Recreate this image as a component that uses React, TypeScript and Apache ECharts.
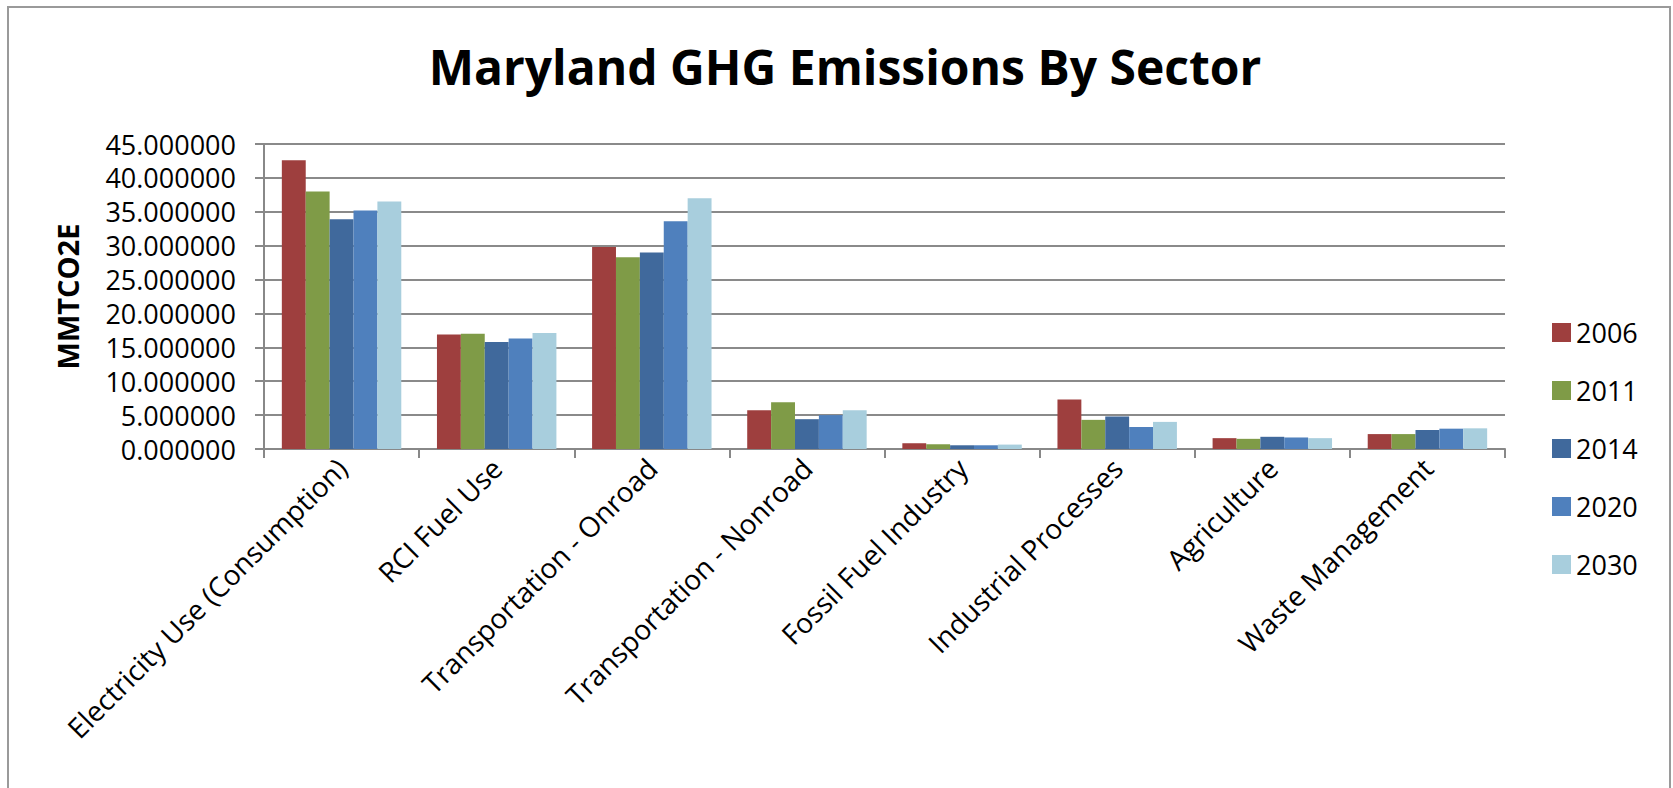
import React, { useEffect, useRef } from "react";
import * as echarts from "echarts";

const categories = [
  "Electricity Use (Consumption)",
  "RCI Fuel Use",
  "Transportation - Onroad",
  "Transportation - Nonroad",
  "Fossil Fuel Industry",
  "Industrial Processes",
  "Agriculture",
  "Waste Management",
];

const seriesNames = ["2006", "2011", "2014", "2020", "2030"];
const v2006 = [42.6, 16.9, 29.8, 5.7, 0.85, 7.3, 1.6, 2.2];
const v2011 = [38.0, 17.0, 28.3, 6.9, 0.7, 4.3, 1.5, 2.2];
const v2014 = [33.9, 15.8, 29.0, 4.4, 0.55, 4.8, 1.8, 2.8];
const v2020 = [35.2, 16.3, 33.6, 5.0, 0.55, 3.25, 1.7, 3.0];
const v2030 = [36.5, 17.1, 37.0, 5.7, 0.65, 4.0, 1.6, 3.05];
const seriesValues = [v2006, v2011, v2014, v2020, v2030];
const colors = ["#9E3F3E", "#7F9B47", "#40699C", "#4F80BD", "#A8CEDD"];

const FONT = "'Open Sans', sans-serif";

export default function App() {
  const ref = useRef<HTMLDivElement>(null);
  useEffect(() => {
    if (!ref.current) return;
    const chart = echarts.init(ref.current, undefined, { renderer: "svg" });
    chart.setOption({
      animation: false,
      backgroundColor: "#ffffff",
      textStyle: { fontFamily: FONT },
      title: {
        text: "Maryland GHG Emissions By Sector",
        left: 840,
        top: 37,
        textAlign: "center",
        textStyle: { fontFamily: FONT, fontSize: 48, fontWeight: "bold", color: "#000" },
      },
      graphic: [
        {
          type: "rect",
          shape: { x: 8, y: 7, width: 1662, height: 800 },
          style: { fill: "none", stroke: "#9a9a9a", lineWidth: 2 },
          silent: true,
        },
      ],
      legend: {
        orient: "vertical",
        left: 1547,
        top: 314,
        itemWidth: 19,
        itemHeight: 19,
        itemGap: 31,
        icon: "rect",
        data: seriesNames,
        textStyle: { fontFamily: FONT, fontSize: 27, color: "#000" },
      },
      grid: { left: 264, right: 168, top: 144, bottom: 339, containLabel: false },
      xAxis: {
        type: "category",
        data: categories,
        axisLine: { lineStyle: { color: "#888", width: 2 } },
        axisTick: { show: true, length: 9, lineStyle: { color: "#888", width: 2 } },
        axisLabel: {
          rotate: 45,
          interval: 0,
          margin: 14,
          fontFamily: FONT,
          fontSize: 28,
          color: "#000",
        },
      },
      yAxis: {
        type: "value",
        min: 0,
        max: 45,
        interval: 5,
        name: "MMTCO2E",
        nameLocation: "middle",
        nameGap: 182,
        nameRotate: 90,
        nameTextStyle: { fontFamily: FONT, fontSize: 29, fontWeight: "bold", color: "#000" },
        axisLine: { show: true, lineStyle: { color: "#888", width: 2 } },
        axisTick: { show: true, length: 9, lineStyle: { color: "#888", width: 2 } },
        splitLine: { lineStyle: { color: "#8a8a8a", width: 2 } },
        axisLabel: {
          margin: 28,
          fontFamily: FONT,
          fontSize: 27,
          lineHeight: 28,
          color: "#000",
          formatter: (v: number) => v.toFixed(6),
        },
      },
      series: seriesNames.map((name, i) => ({
        name,
        type: "bar",
        data: seriesValues[i],
        barGap: "0%",
        barCategoryGap: "23%",
        itemStyle: { color: colors[i] },
      })),
    });
    return () => chart.dispose();
  }, []);
  return (
    <div
      ref={ref}
      style={{ position: "fixed", left: 0, top: 0, width: 1673, height: 788, background: "#fff" }}
    />
  );
}
